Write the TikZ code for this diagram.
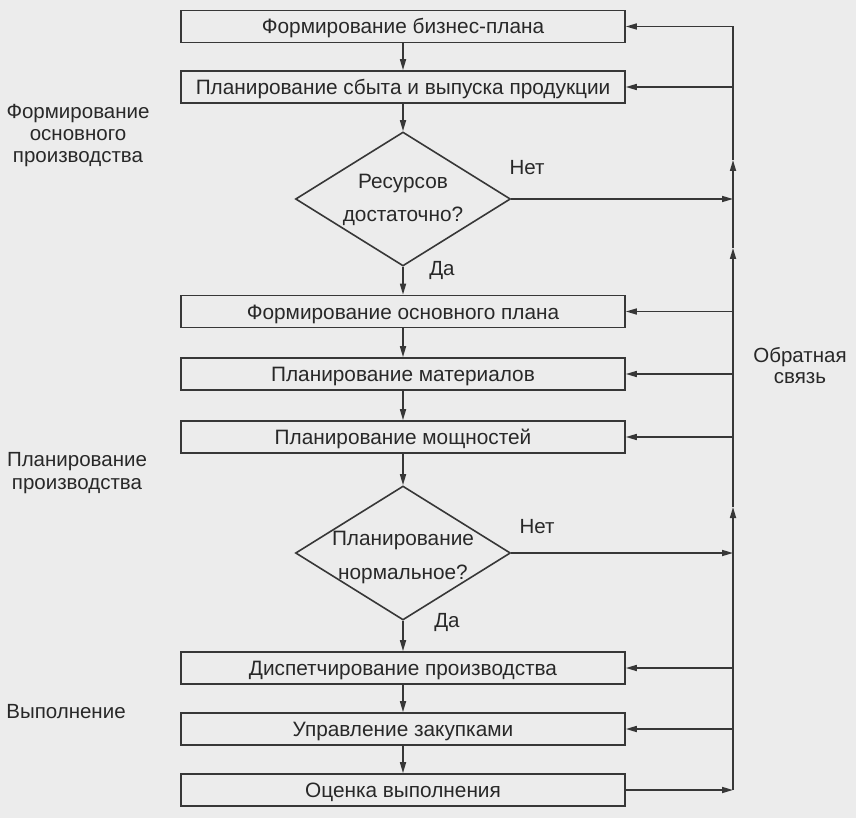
\documentclass[tikz,border=0pt]{standalone}
\usepackage{fontspec}
\setmainfont{Liberation Sans}
\usetikzlibrary{shapes.geometric,arrows.meta}
\definecolor{paper}{RGB}{236,236,236}
\definecolor{ink}{RGB}{55,55,55}
\definecolor{txt}{RGB}{40,40,40}
\tikzset{
  stepbox/.style={draw=ink, line width=1.6pt, minimum width=444pt, minimum height=32pt, inner sep=0pt, text height=15pt, text depth=0pt, text=txt, font=\fontsize{20.8}{24}\selectfont},
  dia/.style={draw=ink, line width=1.6pt, diamond, minimum width=215pt, minimum height=134pt, inner sep=0pt},
  lbl/.style={text=txt, font=\fontsize{20.5}{24}\selectfont, inner sep=0pt},
  ln/.style={draw=ink, line width=1.6pt},
  arr/.style={ln, -{Triangle[length=11pt,width=6pt]}},
}
\begin{document}
\begin{tikzpicture}[x=1pt,y=-1pt]
\useasboundingbox[fill=paper] (0,0) rectangle (856,818);
% boxes
\node[stepbox] (b1) at (403,26.5) {Формирование бизнес-плана};
\node[stepbox] (b2) at (403,87) {Планирование сбыта и выпуска продукции};
\node[dia] (d1) at (403,199) {};
\node[stepbox] (b3) at (403,311.5) {Формирование основного плана};
\node[stepbox] (b4) at (403,374) {Планирование материалов};
\node[stepbox] (b5) at (403,437) {Планирование мощностей};
\node[dia] (d2) at (403,553) {};
\node[stepbox] (b6) at (403,668) {Диспетчирование производства};
\node[stepbox] (b7) at (403,729) {Управление закупками};
\node[stepbox] (b8) at (403,790) {Оценка выполнения};
% diamond texts
\node[lbl, align=center, font=\fontsize{20.8}{33}\selectfont] (t1) at (403,200) {Ресурсов\\достаточно?};
\node[lbl, align=center, font=\fontsize{20.8}{34}\selectfont] (t2) at (403,557) {Планирование\\нормальное?};
% yes/no labels
\node[lbl] (n1) at (527,168) {Нет};
\node[lbl] (y1) at (442,270) {Да};
\node[lbl] (n2) at (537,527) {Нет};
\node[lbl] (y2) at (447,622) {Да};
% side labels
\node[lbl, align=center, font=\fontsize{20.5}{22}\selectfont] (s1) at (78,136) {Формирование\\основного\\производства};
\node[lbl, align=center, font=\fontsize{20.5}{23}\selectfont] (s2) at (77,473) {Планирование\\производства};
\node[lbl] (s3) at (66,712) {Выполнение};
\node[lbl, align=center, font=\fontsize{20.5}{21}\selectfont] (fbl) at (800,366) {Обратная\\связь};
% main flow
\draw[arr] (b1) -- (b2);
\draw[arr] (b2) -- (d1);
\draw[arr] (d1) -- (b3);
\draw[arr] (b3) -- (b4);
\draw[arr] (b4) -- (b5);
\draw[arr] (b5) -- (d2);
\draw[arr] (d2) -- (b6);
\draw[arr] (b6) -- (b7);
\draw[arr] (b7) -- (b8);
% feedback line
\coordinate (fbx) at (733,0);
\coordinate (u1) at (733,160);
\coordinate (u2) at (733,248);
\coordinate (u3) at (733,507);
\draw[arr] (b8.east) -- (b8.east -| fbx);
\draw[arr] (b8.east -| fbx) -- (u3);
\draw[arr] (u3) -- (u2);
\draw[arr] (u2) -- (u1);
\draw[ln] (u1) -- (b1.east -| fbx);
\draw[arr] (d1.east) -- (d1.east -| fbx);
\draw[arr] (d2.east) -- (d2.east -| fbx);
\draw[arr] (b1.east -| fbx) -- (b1.east);
\draw[arr] (b2.east -| fbx) -- (b2.east);
\draw[arr] (b3.east -| fbx) -- (b3.east);
\draw[arr] (b4.east -| fbx) -- (b4.east);
\draw[arr] (b5.east -| fbx) -- (b5.east);
\draw[arr] (b6.east -| fbx) -- (b6.east);
\draw[arr] (b7.east -| fbx) -- (b7.east);
\end{tikzpicture}
\end{document}
